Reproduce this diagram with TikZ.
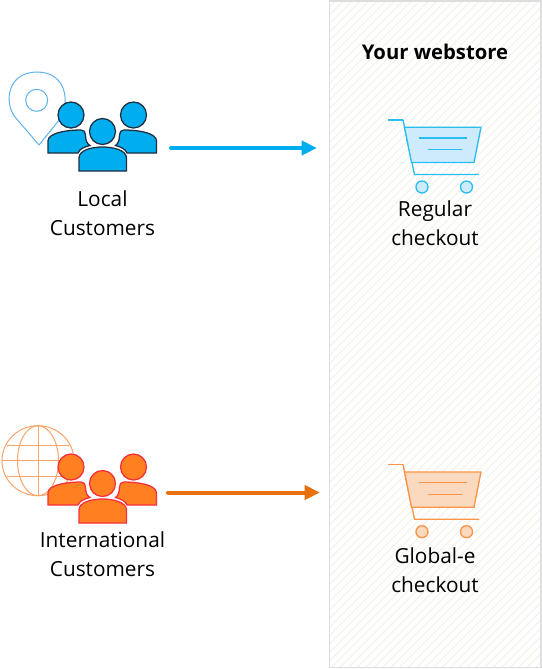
\documentclass[tikz,border=0pt]{standalone}
\usepackage{fontspec}
\setmainfont{Open Sans}
\usetikzlibrary{arrows.meta}
\definecolor{bluefill}{HTML}{00ADEF}
\definecolor{blueline}{HTML}{1F2F3F}
\definecolor{orfill}{HTML}{FF7F21}
\definecolor{orline}{HTML}{F5303A}
\definecolor{pinline}{HTML}{5FB4EE}
\definecolor{globeline}{HTML}{F9A468}
\definecolor{cartblue}{HTML}{2BBDF0}
\definecolor{cartbluefill}{HTML}{CDEBFD}
\definecolor{cartor}{HTML}{F9954A}
\definecolor{cartorfill}{HTML}{FBD9BE}
\definecolor{hatch}{HTML}{F1F1E6}
\definecolor{panelline}{HTML}{DEDEDE}
\definecolor{arrowor}{HTML}{E8700F}
\tikzset{
  x=0.75pt,y=-0.75pt,
  lbl/.style={font=\fontsize{15.6}{22}\selectfont,align=center,inner sep=0pt,text=black},
  person/.style={line width=0.95pt},
  carticon/.style={line width=1pt},
}
\newcommand{\crowd}[3]{% dy, fill, line
  \begin{scope}[yshift=-#1*0.75pt,person,fill=#2,draw=#3]
    \filldraw (71,115) circle[radius=13];
    \filldraw (133.5,115) circle[radius=13];
    \filldraw (48,153) -- (48,141) .. controls (48,133) and (66,130) .. (81,130)
      .. controls (84,130) and (85.5,132) .. (85.5,135)
      .. controls (85.5,140) and (87,144) .. (90,145.5)
      .. controls (84,147) and (79.5,149) .. (78,153) -- cycle;
    \filldraw (156.5,153) -- (156.5,141) .. controls (156.5,133) and (139,130) .. (124,130)
      .. controls (121,130) and (119.5,132) .. (119.5,135)
      .. controls (119.5,140) and (118,144) .. (115.5,145.5)
      .. controls (121,147) and (125.5,149) .. (127,153) -- cycle;
    \filldraw[preaction={draw=white,line width=2.2pt}] (102.5,131.5) circle[radius=13];
    \filldraw (79,171) -- (79,158) .. controls (79,150) and (92,147) .. (102.5,147)
      .. controls (113,147) and (126.5,150) .. (126.5,158) -- (126.5,171) -- cycle;
  \end{scope}}
\newcommand{\cart}[3]{% dy, line, fill
  \begin{scope}[yshift=-#1*0.75pt,carticon,draw=#2]
    \draw[line width=1.3pt] (388.3,119.7) -- (403,119.7);
    \draw (403,119.7) -- (414.5,174.5) -- (479,174.5);
    \filldraw[fill=#3] (404.5,127.3) -- (481,127.3) -- (474,162.5) -- (411.5,162.5) -- cycle;
    \draw (419,138) -- (467,138);
    \draw (427.5,149.5) -- (462,149.5);
    \filldraw[fill=#3] (422,187) circle[radius=6];
    \filldraw[fill=#3] (466.5,187) circle[radius=6];
  \end{scope}}
\begin{document}
\begin{tikzpicture}
\useasboundingbox (0,0) rectangle (542,669);
\fill[white] (0,0) rectangle (542,669);
% panel
\begin{scope}
  \clip (329.5,1) rectangle (541,667.5);
  \foreach \i in {0,...,110}{
    \draw[hatch,line width=0.75pt] (329,{-10+\i*8.5}) -- ++(222,-222);
  }
\end{scope}
\node[draw=panelline,line width=0.9pt,minimum width=0.75*211.5pt,minimum height=0.75*666.5pt,inner sep=0pt,outer sep=0pt,anchor=north west] (panel) at (329.5,1) {};
% pin
\draw[pinline,line width=0.75pt] (39,145) -- (15,117) .. controls (4,103) and (7,72) .. (37,72)
  .. controls (67,72) and (70,103) .. (60,119) -- cycle;
\draw[pinline,line width=0.75pt] (36.7,100.3) circle[radius=11];
% globe
\begin{scope}[globeline,line width=0.75pt]
  \draw (38,460.7) ellipse[x radius=36,y radius=35];
  \draw (38,460.7) ellipse[x radius=20.5,y radius=35];
  \draw (38,425.7) -- (38,495.7);
  \draw (7,445) -- (69,445);
  \draw (2,460.7) -- (74,460.7);
  \draw (7,476) -- (69,476);
\end{scope}
\crowd{0}{bluefill}{blueline}
\crowd{352}{orfill}{orline}
\cart{0}{cartblue}{cartbluefill}
\cart{344.7}{cartor}{cartorfill}
% connector ends
\coordinate (localout) at (171,148);
\coordinate (storein) at (317,148);
\coordinate (intlout) at (168,492.5);
\coordinate (globalin) at (320,492.5);
\draw[bluefill,line width=3pt,line cap=round,-{Triangle[length=11.5pt,width=10.5pt]}] (localout) -- (storein);
\draw[arrowor,line width=3pt,line cap=round,-{Triangle[length=11.5pt,width=10.5pt]}] (intlout) -- (globalin);
% text
\node[lbl,font=\fontsize{15.2}{22}\selectfont\bfseries] (title) at (435,52) {Your webstore};
\node[lbl] (local) at (102.5,213) {Local\\Customers};
\node[lbl] (intl) at (102.5,554.5) {International\\Customers};
\node[lbl] (regular) at (435,223) {Regular\\checkout};
\node[lbl] (global) at (435,570) {Global-e\\checkout};
\end{tikzpicture}
\end{document}
